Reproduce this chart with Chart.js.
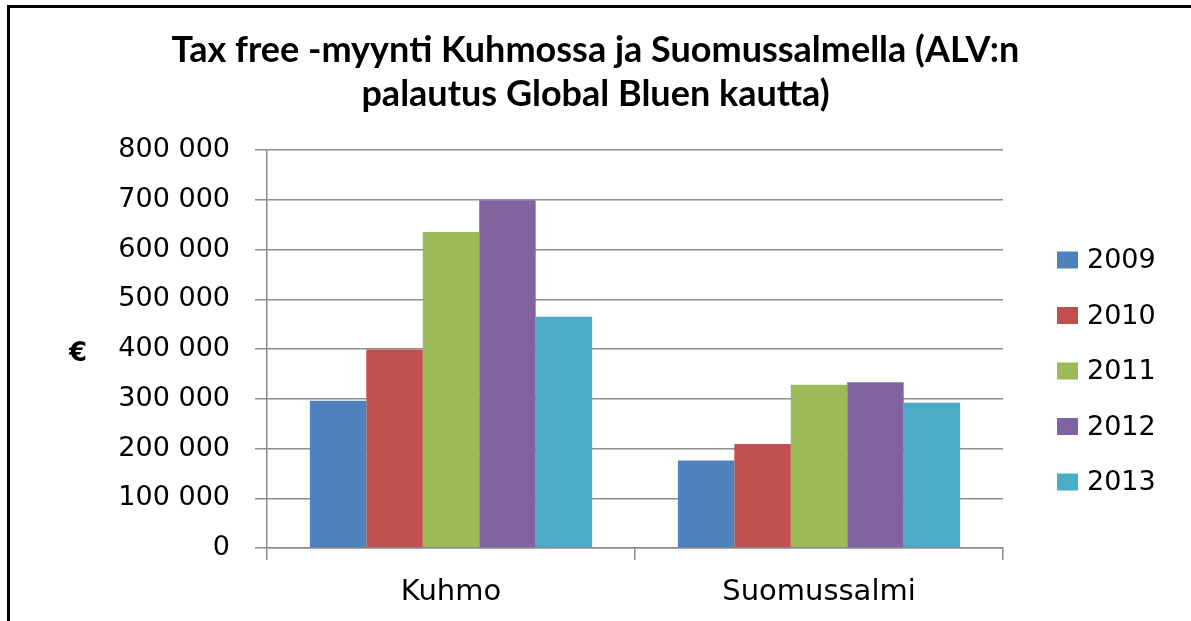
<!DOCTYPE html>
<html>
<head>
<meta charset="utf-8">
<script src="https://cdn.jsdelivr.net/npm/chart.js@4/dist/chart.umd.min.js"></script>
<style>
  html, body { margin: 0; padding: 0; background: #fff; }
  #wrap { position: relative; width: 1191px; height: 621px; overflow: hidden; }
  #frame { position: absolute; left: 7px; top: 5px; width: 1300px; height: 700px;
           border-left: 3px solid #000; border-top: 3px solid #000; pointer-events: none; }
  canvas { position: absolute; left: 0; top: 0; }
</style>
</head>
<body>
<div id="wrap">
  <canvas id="c" width="1191" height="621"></canvas>
  <div id="frame"></div>
</div>
<script>
const titleLines = ['Tax free -myynti Kuhmossa ja Suomussalmella (ALV:n', 'palautus Global Bluen kautta)'];
const yAxisTitle = '€';
const categories = ['Kuhmo', 'Suomussalmi'];
const seriesNames = ['2009', '2010', '2011', '2012', '2013'];
const values2009 = [296000, 176000];
const values2010 = [399000, 209000];
const values2011 = [635000, 328000];
const values2012 = [699000, 333000];
const values2013 = [465000, 292000];
const seriesColors = ['#4F81BD', '#C0504D', '#9BBB59', '#8064A2', '#4BACC6'];
const yMin = 0, yMax = 800000, yStep = 100000;

const allValues = [values2009, values2010, values2011, values2012, values2013];

const fmt = v => String(v).replace(/\B(?=(\d{3})+(?!\d))/g, ' ');

const sidePlugin = {
  id: 'sideItems',
  afterDraw(chart) {
    const ctx = chart.ctx;
    ctx.save();
    // y axis title
    ctx.font = 'bold 26px "DejaVu Sans"';
    ctx.fillStyle = '#000';
    ctx.textAlign = 'center';
    ctx.textBaseline = 'middle';
    ctx.fillText(yAxisTitle, 78, 354);
    // legend
    ctx.font = '27px "DejaVu Sans"';
    ctx.textAlign = 'left';
    chart.data.datasets.forEach((ds, i) => {
      const cy = 260 + i * 55.5;
      ctx.fillStyle = ds.backgroundColor;
      ctx.fillRect(1057, cy - 8.5, 21, 17);
      ctx.fillStyle = '#000';
      ctx.fillText(ds.label, 1087, cy + 1);
    });
    ctx.restore();
  }
};

new Chart(document.getElementById('c'), {
  type: 'bar',
  data: {
    labels: categories,
    datasets: seriesNames.map((name, i) => ({
      label: name,
      data: allValues[i],
      backgroundColor: seriesColors[i],
      borderWidth: 0,
      categoryPercentage: 0.767,
      barPercentage: 1.0
    }))
  },
  options: {
    responsive: false,
    animation: false,
    layout: { padding: { left: 0, right: 0, top: 0, bottom: 0 } },
    plugins: {
      legend: { display: false },
      tooltip: { enabled: false },
      title: {
        display: true,
        text: titleLines,
        color: '#000',
        font: { family: 'Lato', weight: 'bold', size: 36, lineHeight: '44px' },
        padding: { top: 28, bottom: 34 }
      }
    },
    scales: {
      x: {
        grid: { drawOnChartArea: false, drawTicks: true, tickLength: 12, color: '#8c8c8c', lineWidth: 1.5 },
        border: { display: true, color: '#8c8c8c', width: 1.5 },
        ticks: { color: '#000', font: { family: 'DejaVu Sans', size: 29 }, padding: 15 },
        afterFit(scale) { scale.height = 73; }
      },
      y: {
        min: yMin, max: yMax,
        grid: { color: '#8c8c8c', lineWidth: 1.5, tickLength: 12, drawTicks: true },
        border: { display: true, color: '#8c8c8c', width: 1.5 },
        ticks: { stepSize: yStep, color: '#000', font: { family: 'DejaVu Sans', size: 27 }, padding: 25, callback: v => fmt(v) },
        afterFit(scale) { scale.width = 267; }
      },
      legendSpace: {
        type: 'linear',
        position: 'right',
        display: true,
        grid: { display: false, drawTicks: false },
        border: { display: false },
        ticks: { display: false },
        afterFit(scale) { scale.width = 188; }
      }
    }
  },
  plugins: [sidePlugin]
});
</script>
</body>
</html>
